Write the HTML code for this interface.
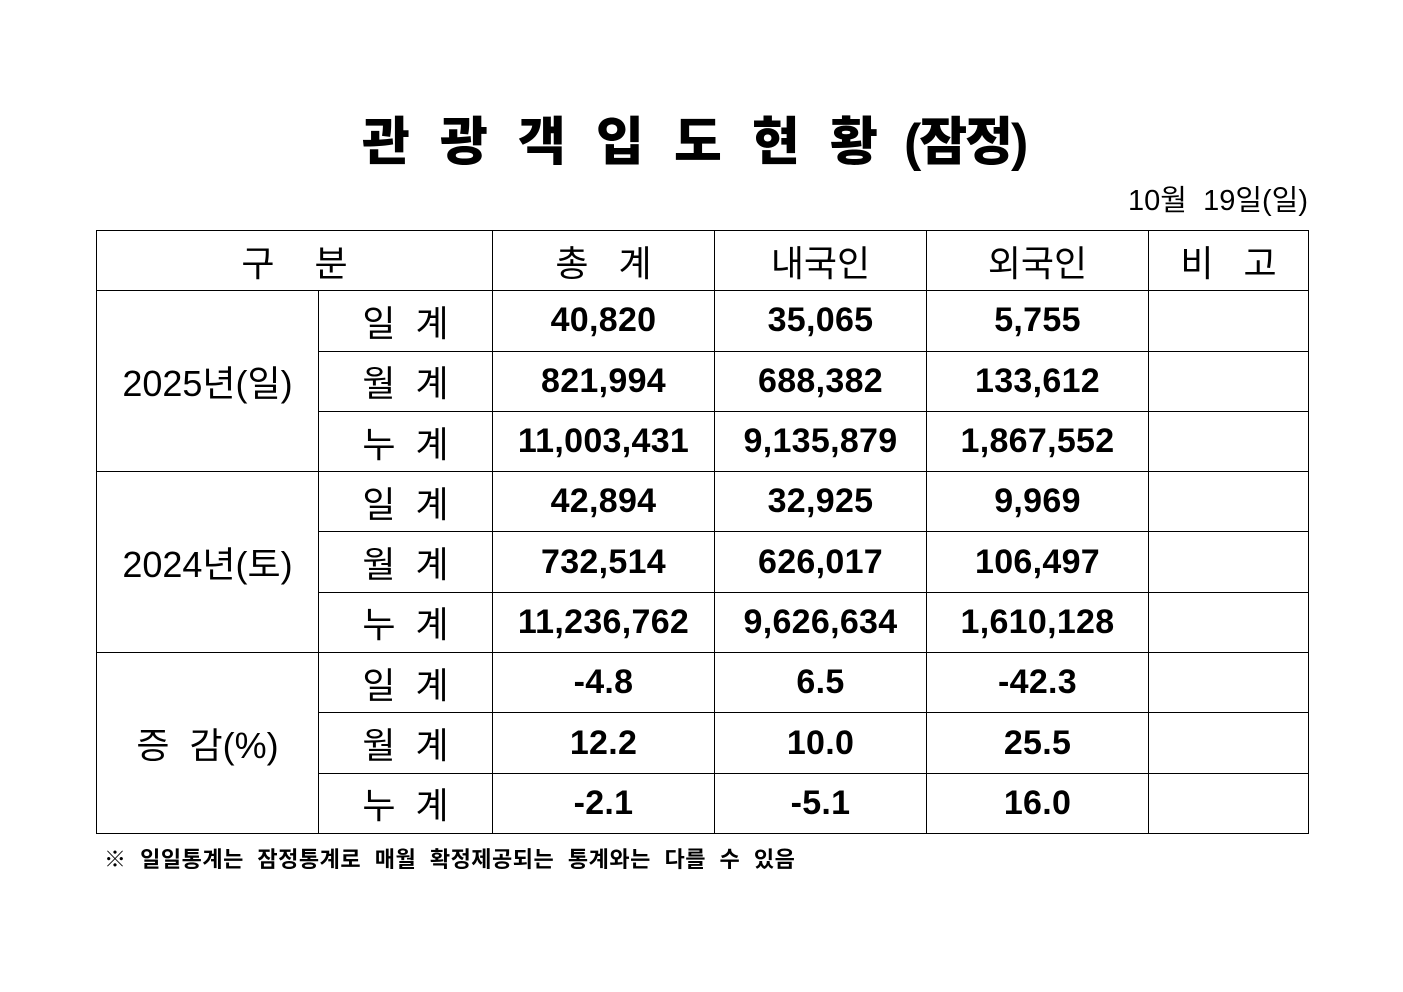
<!DOCTYPE html>
<html><head><meta charset="utf-8"><style>
body{margin:0;width:1403px;height:992px;background:#fff;position:relative;font-family:"Liberation Sans","Noto Sans CJK KR",sans-serif;color:#000;overflow:hidden}
.t{position:absolute;top:110px;font-size:52px;font-weight:900;line-height:66px}
table{position:absolute;left:96px;top:230px;border-collapse:collapse}
td{border:1px solid #000;text-align:center;padding:0;height:59.3px;font-size:36px}
.n{font-weight:bold;font-size:34px;letter-spacing:0.3px}
</style></head><body>
<div class="t" style="left:362px">관</div>
<div class="t" style="left:440px">광</div>
<div class="t" style="left:518px">객</div>
<div class="t" style="left:596px">입</div>
<div class="t" style="left:674px">도</div>
<div class="t" style="left:752px">현</div>
<div class="t" style="left:830px">황</div>
<div class="t" style="left:904px;letter-spacing:-2px">(잠정)</div>
<div style="position:absolute;right:95px;top:177px;font-size:29px">10월 &nbsp;19일(일)</div>
<table>
<colgroup><col style="width:222px"><col style="width:174px"><col style="width:222px"><col style="width:212px"><col style="width:222px"><col style="width:160px"></colgroup>
<tr><td colspan="2">구 &nbsp; &nbsp;분</td><td>총 &nbsp; 계</td><td>내국인</td><td>외국인</td><td>비 &nbsp; 고</td></tr>
<tr><td rowspan="3">2025년(일)</td><td>일 &nbsp;계</td><td class="n">40,820</td><td class="n">35,065</td><td class="n">5,755</td><td></td></tr>
<tr><td>월 &nbsp;계</td><td class="n">821,994</td><td class="n">688,382</td><td class="n">133,612</td><td></td></tr>
<tr><td>누 &nbsp;계</td><td class="n">11,003,431</td><td class="n">9,135,879</td><td class="n">1,867,552</td><td></td></tr>
<tr><td rowspan="3">2024년(토)</td><td>일 &nbsp;계</td><td class="n">42,894</td><td class="n">32,925</td><td class="n">9,969</td><td></td></tr>
<tr><td>월 &nbsp;계</td><td class="n">732,514</td><td class="n">626,017</td><td class="n">106,497</td><td></td></tr>
<tr><td>누 &nbsp;계</td><td class="n">11,236,762</td><td class="n">9,626,634</td><td class="n">1,610,128</td><td></td></tr>
<tr><td rowspan="3">증 &nbsp;감(%)</td><td>일 &nbsp;계</td><td class="n">-4.8</td><td class="n">6.5</td><td class="n">-42.3</td><td></td></tr>
<tr><td>월 &nbsp;계</td><td class="n">12.2</td><td class="n">10.0</td><td class="n">25.5</td><td></td></tr>
<tr><td>누 &nbsp;계</td><td class="n">-2.1</td><td class="n">-5.1</td><td class="n">16.0</td><td></td></tr>
</table>
<div style="position:absolute;left:104px;top:842px;font-size:22px;font-weight:bold;word-spacing:7px;letter-spacing:0.5px">※ 일일통계는 잠정통계로 매월 확정제공되는 통계와는 다를 수 있음</div>
</body></html>
